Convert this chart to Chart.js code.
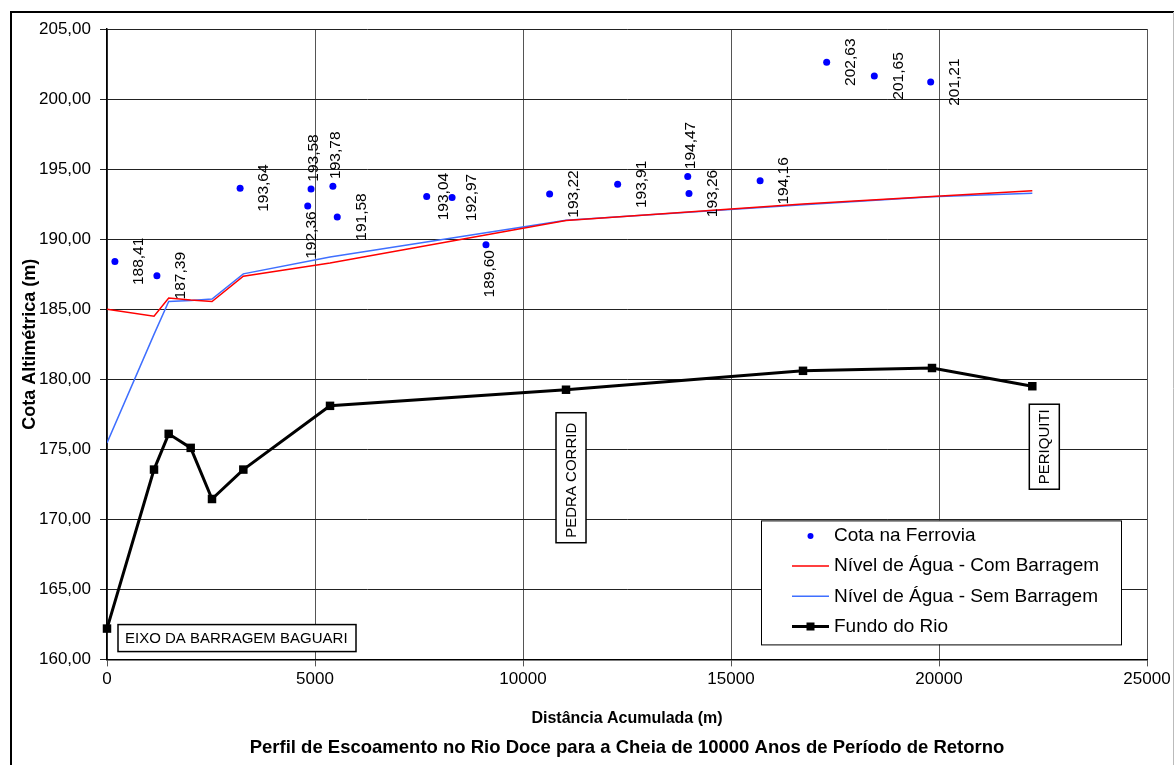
<!DOCTYPE html>
<html lang="pt">
<head>
<meta charset="UTF-8">
<title>Perfil de Escoamento no Rio Doce</title>
<style>
  html, body { margin: 0; padding: 0; background: #fff; }
  #wrap { width: 1174px; height: 765px; position: relative; }
</style>
</head>
<body>
<div id="wrap"><canvas id="perfil"></canvas></div>

<script src="https://cdn.jsdelivr.net/npm/chart.js"></script>
<script>
// Cota na ferrovia (pontos azuis com rotulo)
const ferroviaDist = [190, 1200, 3200, 4825, 4905, 5430, 5535, 7685, 8295, 9110, 10640, 12275, 13960, 13990, 15700, 17300, 18445, 19800];
const ferroviaCota = [188.41, 187.39, 193.64, 192.36, 193.58, 193.78, 191.58, 193.04, 192.97, 189.60, 193.22, 193.91, 194.47, 193.26, 194.16, 202.63, 201.65, 201.21];

// Secoes do rio
const secaoDist = [0, 1130, 1483, 2012, 2524, 3277, 5361, 11034, 16731, 19832, 22243];
const nivelComBarragem = [185.0, 184.5, 185.8, 185.65, 185.55, 187.35, 188.3, 191.33, 192.5, 193.05, 193.45];
const nivelSemBarragem = [175.45, 183.2, 185.55, 185.62, 185.72, 187.52, 188.72, 191.35, 192.45, 193.02, 193.28];
const fundoRio = [162.2, 173.55, 176.1, 175.1, 171.45, 173.55, 178.1, 179.25, 180.6, 180.8, 179.5];

// Rotulos de algumas secoes (indice em secaoDist)
const secaoRotulos = ['EIXO DA BARRAGEM BAGUARI', 'PEDRA CORRID', 'PERIQUITI'];
const secaoRotuloIdx = [0, 7, 10];

const FONTE = 'Liberation Sans, Arial, sans-serif';
Chart.defaults.font.family = FONTE;
Chart.defaults.color = '#000';

const pts = (xs, ys) => xs.map((x, i) => ({ x: x, y: ys[i] }));
const virgula = v => v.toFixed(2).replace('.', ',');

// posicao dos rotulos da ferrovia: r = direita, a = acima, b = abaixo
const posRotulo = { 3: 'b', 4: 'a', 5: 'a', 9: 'b', 12: 'a' };
const dxExtra = { 7: -7, 8: -4 };

const rotulosFerrovia = {
    id: 'rotulosFerrovia',
    afterDatasetsDraw(chart) {
        const ctx = chart.ctx;
        const meta = chart.getDatasetMeta(0);
        ctx.save();
        ctx.font = '15.5px ' + FONTE;
        ctx.fillStyle = '#000';
        ctx.textAlign = 'center';
        ctx.textBaseline = 'middle';
        meta.data.forEach((p, i) => {
            let dx = 24, dy = 0;
            if (posRotulo[i] === 'a') { dx = 3; dy = -31; }
            if (posRotulo[i] === 'b') { dx = 4; dy = 29; }
            dx += dxExtra[i] || 0;
            ctx.save();
            ctx.translate(p.x + dx, p.y + dy);
            ctx.rotate(-Math.PI / 2);
            ctx.fillText(virgula(ferroviaCota[i]), 0, 0);
            ctx.restore();
        });
        ctx.restore();
    }
};

const caixas = [
    { horiz: true, dx: 11, dy: -4, w: 238, h: 27 },
    { horiz: false, dx: 5, dy: 23, w: 30, h: 130 },
    { horiz: false, dx: 12, dy: 18, w: 30, h: 85 }
];

const rotulosSecao = {
    id: 'rotulosSecao',
    afterDatasetsDraw(chart) {
        const ctx = chart.ctx;
        const meta = chart.getDatasetMeta(3);
        ctx.save();
        ctx.font = '15px ' + FONTE;
        ctx.textBaseline = 'middle';
        secaoRotulos.forEach((txt, k) => {
            const p = meta.data[secaoRotuloIdx[k]];
            const c = caixas[k];
            const left = c.horiz ? p.x + c.dx : p.x + c.dx - c.w / 2;
            const top = p.y + c.dy;
            ctx.fillStyle = '#fff';
            ctx.fillRect(left, top, c.w, c.h);
            ctx.strokeStyle = '#000';
            ctx.lineWidth = 1.5;
            ctx.strokeRect(left, top, c.w, c.h);
            ctx.save();
            ctx.beginPath();
            ctx.rect(left + 1, top + 2, c.w - 2, c.h - 3);
            ctx.clip();
            ctx.fillStyle = '#000';
            ctx.textAlign = 'left';
            if (c.horiz) {
                ctx.fillText(txt, left + 7, top + c.h / 2 + 1);
            } else {
                ctx.translate(left + c.w / 2 + 1, top + c.h - 5);
                ctx.rotate(-Math.PI / 2);
                ctx.fillText(txt, 0, 0);
            }
            ctx.restore();
        });
        ctx.restore();
    }
};

const legenda = {
    id: 'legenda',
    afterDraw(chart) {
        const ctx = chart.ctx;
        const a = chart.chartArea;
        const left = a.right - 386, top = a.bottom - 139;
        const w = 360, h = 124;
        ctx.save();
        ctx.fillStyle = '#fff';
        ctx.fillRect(left, top, w, h);
        ctx.strokeStyle = '#000';
        ctx.lineWidth = 1;
        ctx.strokeRect(left + 0.5, top + 0.5, w, h);
        ctx.font = '19px ' + FONTE;
        ctx.textBaseline = 'middle';
        ctx.textAlign = 'left';
        chart.data.datasets.forEach((ds, i) => {
            const y = top + 15.5 + i * 30.2;
            const x0 = left + 31, x1 = left + 68, xm = (x0 + x1) / 2;
            if (i === 0) {
                ctx.fillStyle = ds.backgroundColor;
                ctx.beginPath();
                ctx.arc(xm, y, 3, 0, Math.PI * 2);
                ctx.fill();
            } else {
                ctx.strokeStyle = ds.borderColor;
                ctx.lineWidth = ds.borderWidth;
                ctx.beginPath();
                ctx.moveTo(x0, y);
                ctx.lineTo(x1, y);
                ctx.stroke();
                if (i === 3) {
                    ctx.fillStyle = '#000';
                    ctx.fillRect(xm - 4, y - 4, 8, 8);
                }
            }
            ctx.fillStyle = '#000';
            ctx.fillText(ds.label, left + 73, y);
        });
        ctx.restore();
    }
};

const moldura = {
    id: 'moldura',
    beforeDraw(chart) {
        const ctx = chart.ctx;
        ctx.save();
        ctx.fillStyle = '#fff';
        ctx.fillRect(0, 0, chart.width, chart.height);
        ctx.strokeStyle = '#000';
        ctx.lineWidth = 2;
        ctx.beginPath();
        ctx.moveTo(11, chart.height + 5);
        ctx.lineTo(11, 12);
        ctx.lineTo(chart.width, 12);
        ctx.stroke();
        ctx.strokeStyle = '#bbb';
        ctx.lineWidth = 1;
        ctx.beginPath();
        ctx.moveTo(1173.5, 12);
        ctx.lineTo(1173.5, chart.height);
        ctx.stroke();
        ctx.restore();
    }
};

new Chart(document.getElementById('perfil'), {
    type: 'scatter',
    data: {
        datasets: [
            {
                label: 'Cota na Ferrovia',
                data: pts(ferroviaDist, ferroviaCota),
                showLine: false,
                pointStyle: 'circle',
                pointRadius: 3.5,
                backgroundColor: '#0000ff',
                borderColor: '#0000ff',
                borderWidth: 0
            },
            {
                label: 'Nível de Água - Com Barragem',
                data: pts(secaoDist, nivelComBarragem),
                showLine: true,
                borderColor: '#ff0000',
                backgroundColor: '#ff0000',
                borderWidth: 1.5,
                pointRadius: 0
            },
            {
                label: 'Nível de Água - Sem Barragem',
                data: pts(secaoDist, nivelSemBarragem),
                showLine: true,
                borderColor: '#3f6fff',
                backgroundColor: '#3f6fff',
                borderWidth: 1.5,
                pointRadius: 0
            },
            {
                label: 'Fundo do Rio',
                data: pts(secaoDist, fundoRio),
                showLine: true,
                borderColor: '#000',
                backgroundColor: '#000',
                borderWidth: 3,
                pointStyle: 'rect',
                pointRadius: 6,
                pointBorderWidth: 0,
                clip: false
            }
        ]
    },
    options: {
        responsive: true,
        maintainAspectRatio: false,
        animation: false,
        layout: { padding: { left: 0, top: 29, right: 27, bottom: 0 } },
        plugins: {
            legend: { display: false },
            tooltip: { enabled: false },
            title: {
                display: true,
                position: 'bottom',
                fullSize: false,
                text: 'Perfil de Escoamento no Rio Doce para a Cheia de 10000 Anos de Período de Retorno',
                color: '#000',
                font: { size: 18.5, weight: 'bold' },
                padding: { top: 0, bottom: 6 }
            }
        },
        scales: {
            x: {
                type: 'linear',
                min: 0,
                max: 25000,
                ticks: { stepSize: 5000, font: { size: 17 }, color: '#000', padding: 3, callback: v => String(v) },
                grid: { color: '#555', tickLength: 7 },
                border: { color: '#000', width: 1.5 },
                title: {
                    display: true,
                    text: 'Distância Acumulada (m)',
                    color: '#000',
                    font: { size: 16, weight: 'bold' },
                    padding: { top: 0, bottom: 9 }
                },
                afterFit: s => { s.height = 77.4; }
            },
            y: {
                min: 160,
                max: 205,
                ticks: { stepSize: 5, font: { size: 17 }, color: '#000', padding: 9, callback: v => virgula(v) },
                grid: { color: '#222', tickLength: 7 },
                border: { color: '#000', width: 1.5 },
                title: {
                    display: true,
                    text: 'Cota Altimétrica (m)',
                    color: '#000',
                    font: { size: 18, weight: 'bold' },
                    padding: { top: 19, bottom: 0 }
                },
                afterFit: s => { s.width = 107; }
            }
        }
    },
    plugins: [moldura, rotulosFerrovia, rotulosSecao, legenda]
});
</script>
</body>
</html>
